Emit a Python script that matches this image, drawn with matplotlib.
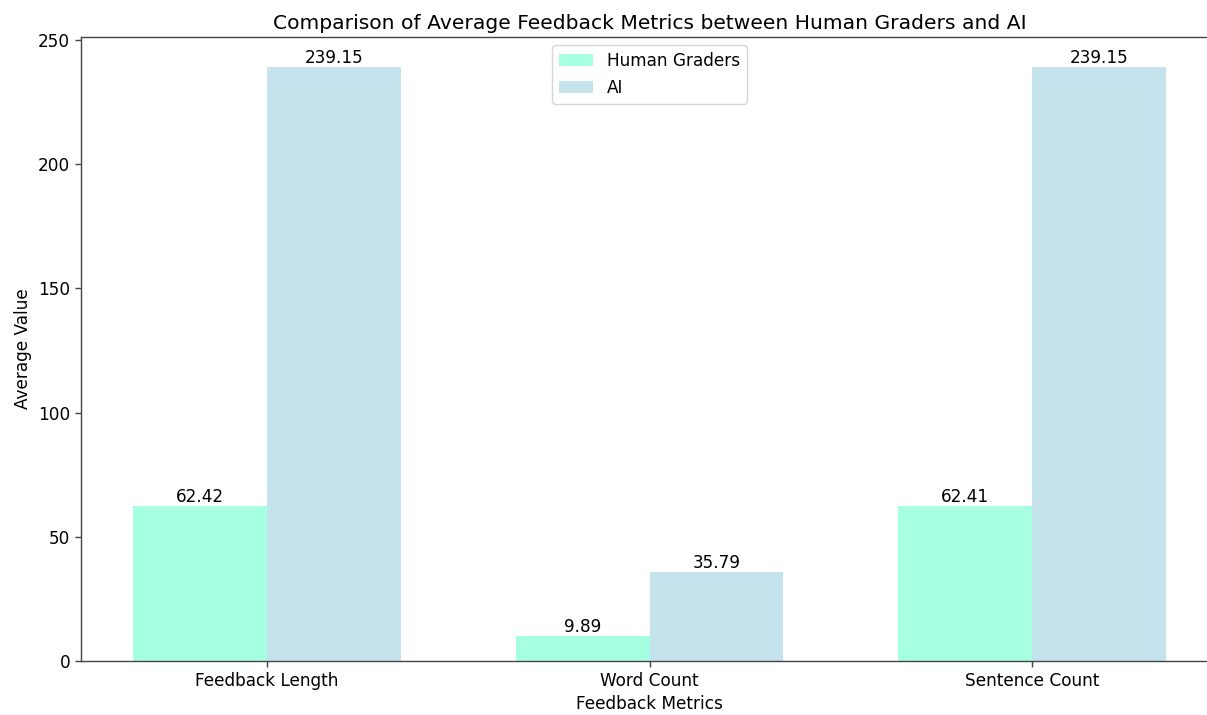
import numpy as np
import matplotlib.pyplot as plt

# Data
metrics = ["Feedback Length", "Word Count", "Sentence Count"]
human_values = [62.42, 9.89, 62.41]
ai_values = [239.15, 35.79, 239.15]

x = np.arange(len(metrics))
width = 0.35
fs = 12.2

fig = plt.figure(figsize=(12.07, 7.15), dpi=100)
# axes runs a little past the right edge, as in the reference crop
ax = fig.add_axes([81 / 1207, 54 / 715, 1137 / 1207, 624 / 715])

bars_h = ax.bar(x - width / 2, human_values, width, label="Human Graders",
                color="aquamarine", alpha=0.7)
bars_ai = ax.bar(x + width / 2, ai_values, width, label="AI",
                 color="lightblue", alpha=0.7)

for bars in (bars_h, bars_ai):
    for bar in bars:
        h = bar.get_height()
        ax.annotate(f"{h:.2f}", xy=(bar.get_x() + bar.get_width() / 2, h),
                    xytext=(0, 0), textcoords="offset points",
                    ha="center", va="bottom", fontsize=fs)

ax.set_xlabel("Feedback Metrics", fontsize=fs)
ax.set_ylabel("Average Value", fontsize=fs)
ax.set_title("Comparison of Average Feedback Metrics between Human Graders and AI",
             fontsize=14.6)
ax.set_xticks(x)
ax.set_xticklabels(metrics)
ax.tick_params(labelsize=fs, width=1.0, length=4.3, color="#444444")
for spine in ax.spines.values():
    spine.set_linewidth(1.0)
    spine.set_color("#444444")
# right edge is cut off in the reference
ax.spines["right"].set_visible(False)
ax.legend(loc="upper center", fontsize=fs)

plt.savefig("out.png")
plt.close()
